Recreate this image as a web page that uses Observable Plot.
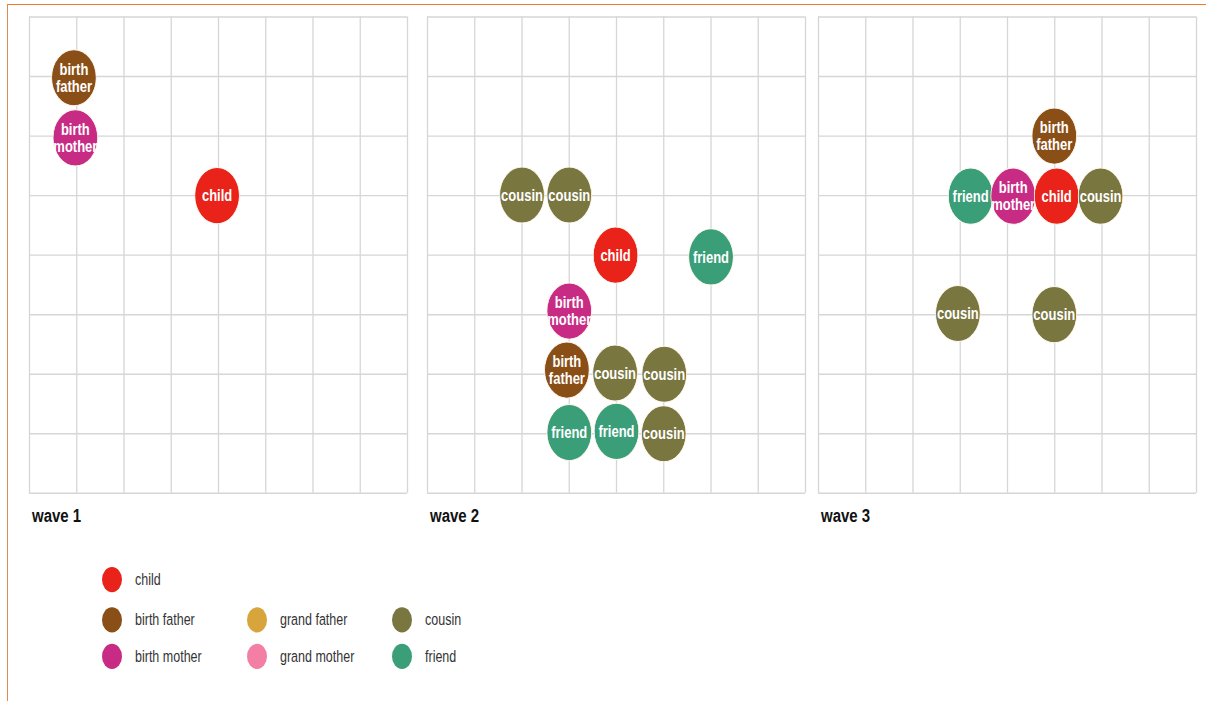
<!DOCTYPE html>
<html><head><meta charset="utf-8">
<script src="https://cdn.jsdelivr.net/npm/d3@7"></script>
<script src="https://cdn.jsdelivr.net/npm/@observablehq/plot@0.6"></script>
<style>
html,body{margin:0;padding:0;background:#fff;width:1206px;height:701px;overflow:hidden;font-family:"Liberation Sans",Arial,Helvetica,sans-serif;}
#frame{position:absolute;left:6.5px;top:3.5px;right:0;height:698px;border-top:1.5px solid #F07A25;border-left:1.5px solid #E08A4F;box-sizing:border-box;}
#page{position:absolute;left:0;top:0;width:1206px;height:557px;transform:scaleY(1.26);transform-origin:0 0;}
.panel{position:absolute;top:11.7px;}
.panel svg{display:block;overflow:visible;}
.wave{position:absolute;top:400.5px;font-weight:bold;font-size:15px;line-height:15px;color:#111;white-space:nowrap;}
.lg-dot{position:absolute;width:20px;height:20px;border-radius:50%;}
.lg-txt{position:absolute;font-size:12.5px;line-height:14px;color:#333;white-space:nowrap;}
</style></head><body>
<div id="frame"></div>
<div id="page"></div>
<script>
// ---- data ----
const waves = [1, 2, 3];
const waveLabels = ["wave 1", "wave 2", "wave 3"];
const roles = ["child", "birth father", "birth mother", "grand father", "grand mother", "cousin", "friend"];
const roleColors = ["#E9221A", "#8A4E17", "#C82B84", "#D8A53D", "#F47FA5", "#7A7640", "#3A9E79"];
const gridLines = [0, 1, 2, 3, 4, 5, 6, 7, 8];

const nodeWave = [1, 1, 1,
                  2, 2, 2, 2, 2, 2, 2, 2, 2, 2, 2,
                  3, 3, 3, 3, 3, 3, 3];
const nodeRole = ["birth father", "birth mother", "child",
                  "cousin", "cousin", "child", "friend", "birth mother", "birth father", "cousin", "cousin", "friend", "friend", "cousin",
                  "birth father", "friend", "birth mother", "child", "cousin", "cousin", "cousin"];
const nodeCol = [0.94, 0.97, 3.97,
                 2.0, 3.0, 3.98, 6.0, 3.0, 2.95, 3.97, 5.01, 3.0, 4.0, 5.0,
                 4.99, 3.22, 4.12, 5.04, 5.97, 2.95, 4.99];
const nodeRow = [1.02, 2.03, 3.0,
                 2.99, 2.99, 4.0, 4.03, 4.94, 5.93, 5.98, 6.0, 6.98, 6.96, 7.0,
                 2.0, 3.01, 3.01, 3.01, 3.01, 4.98, 5.0];

// ---- build ----
const nodes = nodeWave.map((w, i) => ({wave: w, role: nodeRole[i], col: nodeCol[i], row: nodeRow[i]}));
const panelLeft = [28, 426, 817];
const page = document.getElementById("page");
const font = "Liberation Sans, Arial, Helvetica, sans-serif";

waves.forEach((w, k) => {
  const data = nodes.filter(d => d.wave === w);
  const chart = Plot.plot({
    width: 380,
    height: 380,
    margin: 1,
    x: {domain: [0, 8], axis: null},
    y: {domain: [0, 8], axis: null, reverse: true},
    color: {domain: roles, range: roleColors},
    style: {background: "transparent", fontFamily: font, overflow: "visible"},
    marks: [
      Plot.ruleX(gridLines, {stroke: "#d6d6d6", strokeWidth: 1.3}),
      Plot.ruleY(gridLines, {stroke: "#d6d6d6", strokeWidth: 1.1}),
      Plot.dot(data, {x: "col", y: "row", r: 22.3, fill: "role", fillOpacity: 1, stroke: "#fff8ee", strokeWidth: 0.8}),
      Plot.text(data, {x: "col", y: "row", text: d => d.role.replace(" ", "\n"), fill: "white",
                       fontSize: 13, fontWeight: "bold", lineHeight: 1.06, fontFamily: font})
    ]
  });
  const holder = document.createElement("div");
  holder.className = "panel";
  holder.style.left = panelLeft[k] + "px";
  holder.appendChild(chart);
  page.appendChild(holder);
  const lab = document.createElement("div");
  lab.className = "wave";
  lab.style.left = (panelLeft[k] + 4) + "px";
  lab.textContent = waveLabels[k];
  page.appendChild(lab);
});

// ---- legend ----
const legendColLeft = [102, 247, 392];
const legendRowTop = [450.3, 481.7, 511];
roles.forEach((r, i) => {
  const col = i === 0 ? 0 : Math.floor((i - 1) / 2);
  const row = i === 0 ? 0 : 1 + (i - 1) % 2;
  const dot = document.createElement("div");
  dot.className = "lg-dot";
  dot.style.left = legendColLeft[col] + "px";
  dot.style.top = legendRowTop[row] + "px";
  dot.style.background = roleColors[i];
  page.appendChild(dot);
  const t = document.createElement("div");
  t.className = "lg-txt";
  t.style.left = (legendColLeft[col] + 33) + "px";
  t.style.top = (legendRowTop[row] + 3) + "px";
  t.textContent = r;
  page.appendChild(t);
});
</script>
</body></html>
